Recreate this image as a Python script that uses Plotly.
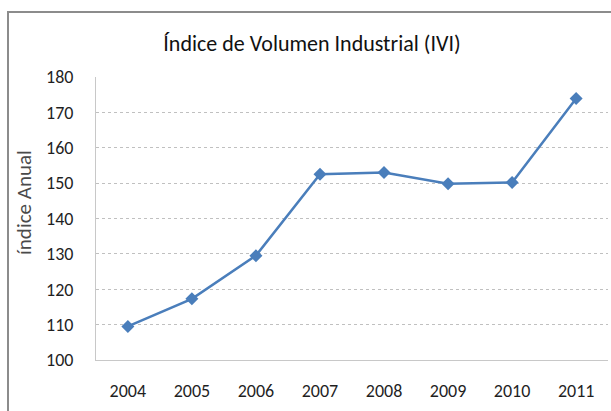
import plotly.graph_objects as go

# Índice de Volumen Industrial
anios = ["2004", "2005", "2006", "2007", "2008", "2009", "2010", "2011"]
ivi = [109.5, 117.3, 129.5, 152.5, 153.0, 149.8, 150.2, 173.9]
y_ticks = [100, 110, 120, 130, 140, 150, 160, 170, 180]

FONT = "Carlito, Lato, Open Sans, sans-serif"
AZUL = "#4a7ebb"

fig = go.Figure(
    go.Scatter(
        x=anios,
        y=ivi,
        mode="lines+markers",
        line=dict(color=AZUL, width=2.5),
        marker=dict(symbol="diamond", size=10, color=AZUL),
        showlegend=False,
    )
)

fig.update_layout(
    width=611,
    height=411,
    margin=dict(l=96, r=3, t=77, b=51),
    paper_bgcolor="white",
    plot_bgcolor="white",
    font=dict(family=FONT, color="#1f1f1f", size=18),
    title=dict(
        text="Índice de Volumen Industrial (IVI)",
        x=312 / 611,
        xanchor="center",
        y=1 - 43 / 411,
        yanchor="middle",
        font=dict(family=FONT, size=22, color="#111111"),
    ),
    annotations=[
        dict(
            text="índice Anual",
            xref="paper", yref="paper",
            x=(24 - 96) / 512, y=(360 - 203) / 283,
            xanchor="center", yanchor="middle",
            textangle=-90, showarrow=False,
            font=dict(family=FONT, size=21, color="#4a4a4a"),
        )
    ],
    shapes=[
        # marco exterior del gráfico (cortado a la derecha y abajo)
        dict(
            type="rect", xref="paper", yref="paper",
            x0=(8 - 96) / 512, x1=(620 - 96) / 512,
            y0=(360 - 420) / 283, y1=(360 - 12) / 283,
            line=dict(color="#8c8c8c", width=2),
            fillcolor="rgba(0,0,0,0)",
            layer="below",
        )
    ],
)

fig.update_xaxes(
    type="category",
    showgrid=False,
    showline=True,
    linecolor="#c8c8c8",
    linewidth=1,
    ticks="",
    ticklabelstandoff=14,
)

fig.update_yaxes(
    range=[100, 180],
    tickvals=y_ticks,
    showgrid=True,
    gridcolor="#c0c0c0",
    griddash="dot",
    gridwidth=1,
    showline=True,
    linecolor="#c8c8c8",
    linewidth=1,
    zeroline=False,
    ticks="",
    ticklabelstandoff=18,
)

fig.write_html(
    "out.html",
    config={"displayModeBar": False},
    post_script="document.body.style.margin='0';",
)
